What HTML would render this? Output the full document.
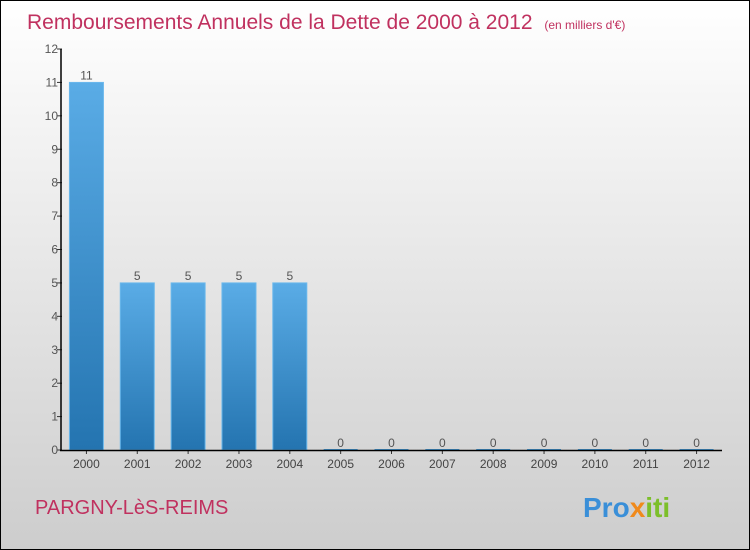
<!DOCTYPE html>
<html><head><meta charset="utf-8"><style>
body{margin:0}
svg{display:block;font-family:"Liberation Sans",sans-serif}
</style></head><body>
<svg id="c" width="750" height="550" xmlns="http://www.w3.org/2000/svg">
<defs>
<linearGradient id="bg" x1="0" y1="0" x2="0" y2="1"><stop offset="0" stop-color="#ffffff"/><stop offset="1" stop-color="#cdcdcd"/></linearGradient>
<linearGradient id="bar" x1="0" y1="0" x2="0" y2="1"><stop offset="0" stop-color="#5aace6"/><stop offset="1" stop-color="#2474b0"/></linearGradient>
</defs>
<rect x="0.5" y="0.5" width="749" height="549" fill="url(#bg)" stroke="#000"/>
<text x="27" y="29" font-size="21" fill="#c0315f">Remboursements Annuels de la Dette de 2000 à 2012 <tspan font-size="12" dx="6">(en milliers d'€)</tspan></text>
<g id="bars"></g>
<g id="axes"></g>
<text x="35" y="514" font-size="20" fill="#c0315f">PARGNY-LèS-REIMS</text>
<text x="583" y="517" font-size="28" font-weight="bold"><tspan fill="#3a8fd8">Pro</tspan><tspan fill="#f08a1c">x</tspan><tspan fill="#7cbf2a">iti</tspan></text>
</svg>
<script>
const categories=["2000","2001","2002","2003","2004","2005","2006","2007","2008","2009","2010","2011","2012"];
const values=[11,5,5,5,5,0,0,0,0,0,0,0,0];
const yTicks=[0,1,2,3,4,5,6,7,8,9,10,11,12];
const NS="http://www.w3.org/2000/svg";
const x0=61,x1=722,y0=450,y1=49,yMax=12;
const bw=(x1-x0)/categories.length;
const y=v=>y0-(v/yMax)*(y0-y1);
const xc=i=>x0+bw*(i+0.5);
function mk(t,a,p){const e=document.createElementNS(NS,t);for(const k in a)e.setAttribute(k,a[k]);p.appendChild(e);return e;}
const gb=document.getElementById('bars'),ga=document.getElementById('axes');
values.forEach((v,i)=>{
  const h=Math.max(y0-y(v),1);
  const r=mk('rect',{x:xc(i)-17,y:y0-h,width:34,height:h,fill:'url(#bar)',stroke:v>0?'#6ab8ec':'none','stroke-width':1},gb);
  
  
  const t=mk('text',{x:xc(i),y:y(v)-3,'font-size':12,fill:'#555','text-anchor':'middle'},gb);
  t.textContent=v;
  
  
  const c=mk('text',{x:xc(i),y:468,'font-size':12,fill:'#444','text-anchor':'middle'},ga);
  c.textContent=categories[i];
  
  
  mk('line',{x1:xc(i),x2:xc(i),y1:450,y2:454,stroke:'#333'},ga);
});
yTicks.forEach(v=>{
  mk('line',{x1:57,x2:62,y1:y(v),y2:y(v),stroke:'#333'},ga);
  const t=mk('text',{x:58,y:y(v)+4,'font-size':12,fill:'#555','text-anchor':'end'},ga);
  t.textContent=v;
  
  
});
const ya=mk('line',{x1:61,x2:61,y1:49,y2:451,stroke:'#000','stroke-width':1.5},ga);


const xa=mk('line',{x1:60,x2:722,y1:450.5,y2:450.5,stroke:'#000','stroke-width':1.5},ga);


</script>
</body></html>
